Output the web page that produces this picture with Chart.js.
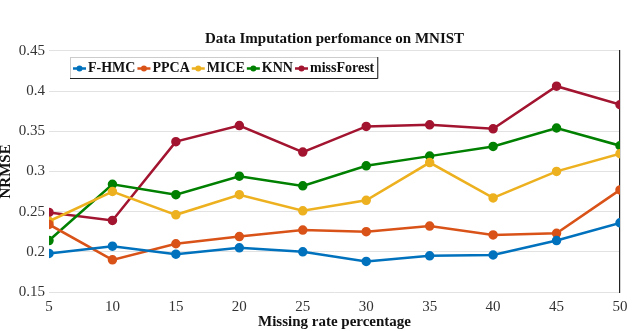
<!DOCTYPE html>
<html>
<head>
<meta charset="utf-8">
<script src="https://cdn.jsdelivr.net/npm/chart.js@4"></script>
<style>
  html, body { margin: 0; padding: 0; background: #fff; }
  #wrap { width: 640px; height: 331px; }
</style>
</head>
<body>
<div id="wrap"><canvas id="c" width="640" height="331"></canvas></div>
<script>
Chart.defaults.font.family = "'Liberation Serif', 'DejaVu Serif', serif";
Chart.defaults.color = "#333";

// values
const missingRates = [5, 10, 15, 20, 25, 30, 35, 40, 45, 50];
const yTicks = [0.15, 0.2, 0.25, 0.3, 0.35, 0.4, 0.45];

const fhmc       = [0.198, 0.207, 0.197, 0.205, 0.200, 0.188, 0.195, 0.196, 0.214, 0.236];
const ppca       = [0.234, 0.190, 0.210, 0.219, 0.227, 0.225, 0.232, 0.221, 0.223, 0.277];
const mice       = [0.238, 0.275, 0.246, 0.271, 0.251, 0.264, 0.311, 0.267, 0.300, 0.322];
const knn        = [0.214, 0.284, 0.271, 0.294, 0.282, 0.307, 0.319, 0.331, 0.354, 0.332];
const missForest = [0.249, 0.239, 0.337, 0.357, 0.324, 0.356, 0.358, 0.353, 0.406, 0.383];

const names  = ["F-HMC", "PPCA", "MICE", "KNN", "missForest"];
const series = [fhmc, ppca, mice, knn, missForest];
const colors = ["#0072BD", "#D95319", "#EDB120", "#008000", "#A2142F"];

function toPoints(arr) {
  return arr.map((v, i) => ({ x: missingRates[i], y: v }));
}

// legend box drawn inside the plot, MATLAB style
const boxLegend = {
  id: "boxLegend",
  afterDraw(chart) {
    const ctx = chart.ctx;
    const left = 70, top = 57, h = 21;
    ctx.save();
    ctx.font = "bold 14px 'Liberation Serif', serif";
    let x = left + 3;
    const items = chart.data.datasets.map(ds => {
      const w = ctx.measureText(ds.label).width;
      const it = { x, w, ds };
      x += 13 + 2 + w + 2;
      return it;
    });
    const right = x + 1;
    ctx.fillStyle = "#fff";
    ctx.fillRect(left, top, right - left, h);
    ctx.strokeStyle = "#ccc";
    ctx.lineWidth = 1;
    ctx.strokeRect(left + 0.5, top + 0.5, right - left, h);
    ctx.strokeStyle = "#222";
    ctx.beginPath();
    ctx.moveTo(right + 0.5, top);
    ctx.lineTo(right + 0.5, top + h + 0.5);
    ctx.lineTo(left, top + h + 0.5);
    ctx.stroke();
    const cy = top + h / 2 + 1;
    items.forEach(it => {
      ctx.strokeStyle = it.ds.borderColor;
      ctx.lineWidth = 2.5;
      ctx.beginPath();
      ctx.moveTo(it.x, cy);
      ctx.lineTo(it.x + 13, cy);
      ctx.stroke();
      ctx.fillStyle = it.ds.borderColor;
      ctx.beginPath();
      ctx.arc(it.x + 6.5, cy, 3, 0, Math.PI * 2);
      ctx.fill();
      ctx.fillStyle = "#111";
      ctx.textBaseline = "middle";
      ctx.fillText(it.ds.label, it.x + 15, cy);
    });
    ctx.restore();
  }
};

new Chart(document.getElementById("c"), {
  type: "line",
  data: {
    datasets: names.map((n, i) => ({
      label: n,
      data: toPoints(series[i]),
      borderColor: colors[i],
      backgroundColor: colors[i],
      borderWidth: 2.5,
      pointRadius: 3.5,
      pointHoverRadius: 3.5,
      tension: 0
    }))
  },
  options: {
    responsive: false,
    animation: false,
    layout: { padding: { left: 0, right: 20, top: 0, bottom: 0 } },
    plugins: {
      legend: { display: false },
      tooltip: { enabled: false },
      title: {
        display: true,
        text: "Data Imputation perfomance on MNIST",
        fullSize: false,
        color: "#111",
        font: { size: 15, weight: "bold", lineHeight: 1.12 },
        padding: { top: 31, bottom: 3 }
      }
    },
    scales: {
      x: {
        type: "linear",
        min: 5,
        max: 50,
        afterBuildTicks(s) { s.ticks = missingRates.map(v => ({ value: v })); },
        afterFit(s) { s.height = 39; },
        grid: { display: false, drawTicks: false },
        border: { display: false },
        ticks: { padding: 6, font: { size: 15 }, color: "#333" },
        title: {
          display: true,
          text: "Missing rate percentage",
          color: "#111",
          font: { size: 15, weight: "bold", lineHeight: 1.1 },
          padding: { top: 0, bottom: 1 }
        }
      },
      y: {
        min: 0.15,
        max: 0.45,
        afterBuildTicks(s) { s.ticks = yTicks.map(v => ({ value: v })); },
        afterFit(s) { s.width = 49; },
        grid: { color: "#e2e2e2", lineWidth: 1, drawTicks: false },
        border: { display: false },
        ticks: {
          padding: 4,
          font: { size: 15 },
          color: "#333",
          callback: v => String(+v.toFixed(2))
        },
        title: {
          display: true,
          text: "NRMSE",
          color: "#111",
          font: { size: 15, weight: "bold", lineHeight: 0.8 },
          padding: 0
        }
      },
      y2: {
        position: "right",
        min: 0.15,
        max: 0.45,
        afterFit(s) { s.width = 0; },
        grid: { display: false },
        ticks: { display: false },
        border: { display: true, color: "#222", width: 1.2 }
      }
    }
  },
  plugins: [boxLegend]
});
</script>
</body>
</html>
